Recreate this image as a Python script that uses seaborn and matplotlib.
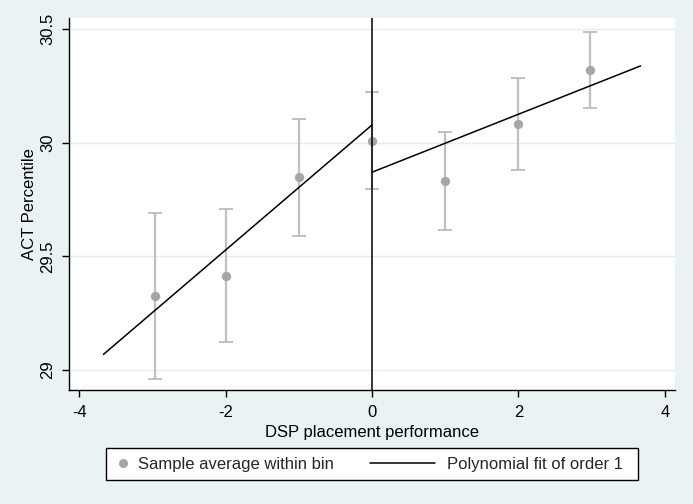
import matplotlib
matplotlib.use("Agg")
import matplotlib.pyplot as plt
import seaborn as sns
import pandas as pd
from matplotlib.legend_handler import HandlerBase
from matplotlib.lines import Line2D
from matplotlib.patches import Rectangle

# ---- data ----
bin_x = [-2.96, -2, -1, 0, 1, 2, 2.98]
bin_mean = [29.326, 29.415, 29.849, 30.009, 29.831, 30.082, 30.320]
ci_low = [28.959, 29.123, 29.592, 29.799, 29.616, 29.880, 30.153]
ci_high = [29.692, 29.708, 30.106, 30.222, 30.047, 30.285, 30.486]

fit_left_x = [-3.67, 0.0]
fit_left_y = [29.069, 30.079]
fit_right_x = [0.0, 3.67]
fit_right_y = [29.871, 30.339]

x_ticks = [-4, -2, 0, 2, 4]
y_ticks = [29, 29.5, 30, 30.5]
y_tick_labels = ["29", "29.5", "30", "30.5"]

x_label = "DSP placement performance"
y_label = "ACT Percentile"
legend_labels = ["Sample average within bin", "Polynomial fit of order 1"]

# ---- style ----
sns.set_theme(style="white")
plt.rcParams["font.family"] = ["Liberation Sans", "DejaVu Sans"]

bg = "#EAF2F3"
marker_col = "#A6A6A6"
err_col = "#C0C0C0"

W, H = 693, 504
fig = plt.figure(figsize=(W / 100, H / 100), dpi=100, facecolor=bg)
ax = fig.add_axes([0.0996, 0.226, 0.8745, 0.738])
ax.set_facecolor("white")

df = pd.DataFrame({"x": bin_x, "y": bin_mean, "lo": ci_low, "hi": ci_high})

# grid
for yt in y_ticks:
    ax.axhline(yt, color="#E3EEEF", lw=1.0, zorder=0)

# error bars
ax.errorbar(df["x"], df["y"],
            yerr=[df["y"] - df["lo"], df["hi"] - df["y"]],
            fmt="none", ecolor=err_col, elinewidth=1.6, capsize=5, capthick=1.4, zorder=2)

# points
sns.scatterplot(data=df, x="x", y="y", ax=ax, color=marker_col, s=45,
                edgecolor=marker_col, linewidth=0, zorder=3,
                label=legend_labels[0])

# fit lines
sns.lineplot(x=fit_left_x, y=fit_left_y, ax=ax, color="black", lw=1.1, zorder=4,
             label=legend_labels[1])
sns.lineplot(x=fit_right_x, y=fit_right_y, ax=ax, color="black", lw=1.1, zorder=4)

# cutoff line
ax.axvline(0, color="black", lw=1.1, zorder=4)

ax.set_xlim(-4.14, 4.14)
ax.set_ylim(28.912, 30.549)
ax.set_xticks(x_ticks)
ax.set_xticklabels([str(t) for t in x_ticks])
ax.set_yticks(y_ticks)
ax.set_yticklabels(y_tick_labels, rotation=90, va="center")

for s in ["top", "right"]:
    ax.spines[s].set_visible(False)
for s in ["left", "bottom"]:
    ax.spines[s].set_color("black")
    ax.spines[s].set_linewidth(1.0)

ax.tick_params(axis="both", which="major", direction="out", length=5, width=1,
               color="black", labelsize=12, labelcolor="black", left=True, bottom=True)
ax.tick_params(axis="x", pad=6)
ax.tick_params(axis="y", pad=5)

ax.set_xlabel(x_label, fontsize=12, color="black", labelpad=3)
ax.set_ylabel(y_label, fontsize=12, color="black", labelpad=2)


class MarkerHandler(HandlerBase):
    def create_artists(self, legend, orig, xdescent, ydescent, width, height, fontsize, trans):
        y = height / 2 - ydescent
        m = Line2D([1.7 - xdescent], [y], marker="o", ls="none", ms=5.5,
                   color=marker_col, mec=marker_col)
        m.set_transform(trans)
        return [m]


class LongLineHandler(HandlerBase):
    def create_artists(self, legend, orig, xdescent, ydescent, width, height, fontsize, trans):
        y = height / 2 - ydescent
        x1 = width - xdescent - 3.3
        ln = Line2D([x1 - 46.8, x1], [y, y], color="black", lw=1.1)
        ln.set_transform(trans)
        return [ln]


if ax.legend_:
    ax.legend_.remove()
handles, labels = ax.get_legend_handles_labels()

# legend frame (Stata-style box with extra right padding)
box_l, box_t, box_r, box_b = 106, 448, 638, 480
fig.patches.append(Rectangle((box_l / W, 1 - box_b / H), (box_r - box_l) / W,
                             (box_b - box_t) / H, transform=fig.transFigure,
                             facecolor="white", edgecolor="black", lw=1.0, zorder=1))

leg = fig.legend(handles[:2], legend_labels, loc="center left", ncol=2,
                 bbox_to_anchor=(box_l / W, 1 - 464 / H), frameon=False,
                 fontsize=12, handlelength=0.6,
                 columnspacing=5.7, handletextpad=0.45, borderpad=0.4,
                 handler_map={handles[0]: MarkerHandler(), handles[1]: LongLineHandler()})
leg.set_zorder(2)

fig.savefig("out.png", dpi=100, facecolor=bg)
